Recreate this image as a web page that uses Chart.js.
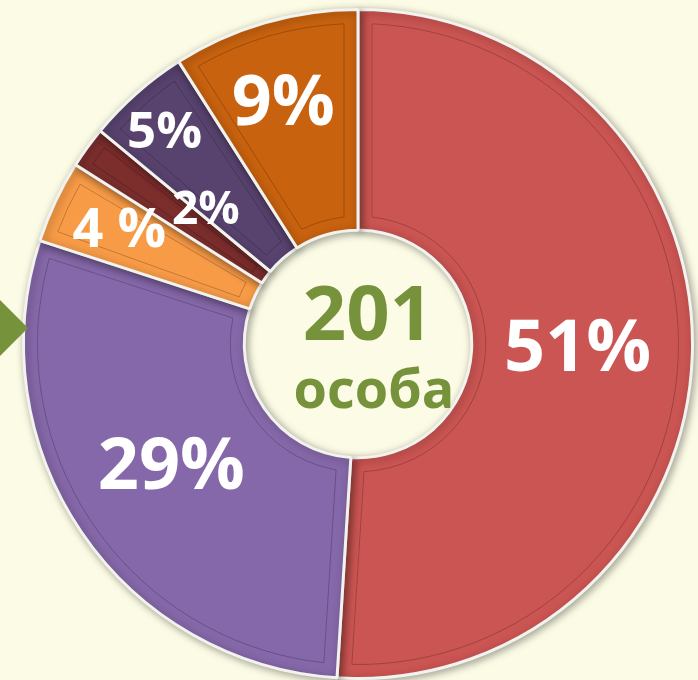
<!DOCTYPE html>
<html lang="uk">
<head>
<meta charset="UTF-8" />
<title>201 особа</title>
<script src="https://cdn.jsdelivr.net/npm/chart.js"></script>
<style>
  html, body { margin: 0; padding: 0; background: #FCFCE6; }
  #wrap { position: relative; width: 698px; height: 680px; }
  #arrow {
    position: absolute; left: 0; top: 300px; width: 28px; height: 56px;
    background: #76933C; clip-path: polygon(0 0, 100% 50%, 0 100%);
  }
</style>
</head>
<body>
<div id="wrap">
  <canvas id="chartOsoby" width="698" height="680"></canvas>
  <div id="arrow"></div>
</div>

<script>
// дані
const categories = ['A', 'B', 'C', 'D', 'E', 'F'];
const values = [51, 29, 4, 2, 5, 9];
const labelsText = ['51%', '29%', '4 %', '2%', '5%', '9%'];
const colors = ['#CB5552', '#8568A9', '#F79B47', '#7C2E2D', '#58436F', '#C8620F'];
const totalText = ['201', 'особа'];

// розмір підпису та радіальний зсув (частка кільця)
const labelFont = [72, 72, 54, 46, 51, 70];
const labelRadius = [0.48, 0.50, 0.68, 0.40, 0.78, 0.62];
const labelAngleShift = [0, 0.01, 0, 0.09, -0.02, -0.02];

const labelsPlugin = {
  id: 'percentLabels',
  beforeDatasetsDraw(chart) {
    const ctx = chart.ctx;
    ctx.save();
    ctx.shadowColor = 'rgba(0,0,0,0.35)';
    ctx.shadowBlur = 8;
    ctx.shadowOffsetX = 2;
    ctx.shadowOffsetY = 2;
  },
  afterDatasetsDraw(chart) {
    const ctx = chart.ctx;
    ctx.restore();
    const meta = chart.getDatasetMeta(0);
    // внутрішня рамка сегментів (імітація рельєфу)
    meta.data.forEach((arc) => {
      const p = arc.getProps(['x', 'y', 'startAngle', 'endAngle', 'innerRadius', 'outerRadius']);
      const inset = 14;
      const ri = p.innerRadius + inset, ro = p.outerRadius - inset;
      const span = p.endAngle - p.startAngle;
      const dOut = Math.min(inset / ro, span / 4), dIn = Math.min(inset / ri, span / 4);
      ctx.save();
      ctx.beginPath();
      ctx.arc(p.x, p.y, ro, p.startAngle + dOut, p.endAngle - dOut);
      ctx.arc(p.x, p.y, ri, p.endAngle - dIn, p.startAngle + dIn, true);
      ctx.closePath();
      ctx.strokeStyle = 'rgba(0,0,0,0.22)';
      ctx.lineWidth = 1;
      ctx.stroke();
      ctx.restore();
    });
    meta.data.forEach((arc, i) => {
      const p = arc.getProps(['x', 'y', 'startAngle', 'endAngle', 'innerRadius', 'outerRadius']);
      const a = (p.startAngle + p.endAngle) / 2 + labelAngleShift[i];
      const r = p.innerRadius + (p.outerRadius - p.innerRadius) * labelRadius[i];
      ctx.save();
      ctx.fillStyle = '#FFFFFF';
      ctx.font = 'bold ' + labelFont[i] + 'px "Open Sans"';
      ctx.textAlign = 'center';
      ctx.textBaseline = 'middle';
      ctx.fillText(labelsText[i], p.x + Math.cos(a) * r, p.y + Math.sin(a) * r);
      ctx.restore();
    });
    // центр
    const c = meta.data[0];
    ctx.save();
    ctx.fillStyle = '#76933C';
    ctx.textAlign = 'center';
    ctx.textBaseline = 'alphabetic';
    ctx.font = 'bold 76px "Open Sans"';
    ctx.fillText(totalText[0], c.x + 10, c.y - 4);
    ctx.font = 'bold 54px "Open Sans"';
    ctx.fillText(totalText[1], c.x + 16, c.y + 64);
    ctx.restore();
  }
};

const ctx = document.getElementById('chartOsoby').getContext('2d');

new Chart(ctx, {
  type: 'doughnut',
  data: {
    labels: categories,
    datasets: [{
      data: values,
      backgroundColor: colors,
      borderColor: '#F2F2EE',
      borderWidth: 3
    }]
  },
  options: {
    responsive: false,
    animation: false,
    cutout: '34%',
    layout: { padding: { left: 20, right: 2, top: 8, bottom: 0 } },
    plugins: {
      legend: { display: false },
      tooltip: { enabled: false }
    }
  },
  plugins: [labelsPlugin]
});
</script>
</body>
</html>
